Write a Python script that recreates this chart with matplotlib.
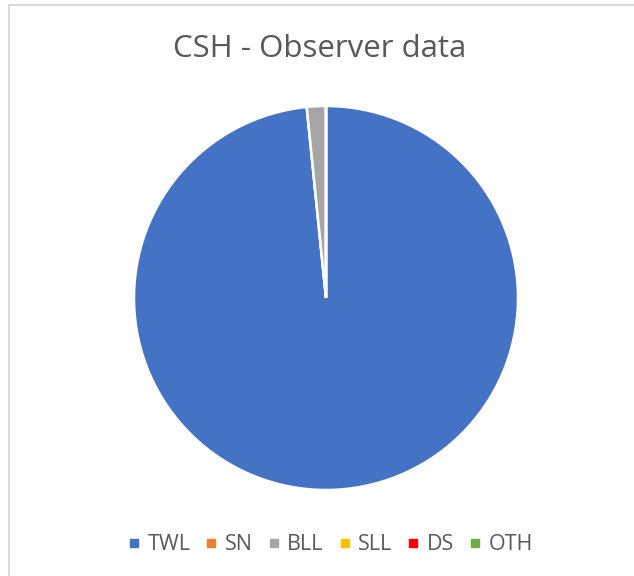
import matplotlib
matplotlib.use("Agg")
import matplotlib.pyplot as plt
from matplotlib.lines import Line2D
from matplotlib.patches import Rectangle

# Share of records by gear category
categories = ["TWL", "SN", "BLL", "SLL", "DS", "OTH"]
values = [98.4, 0.0, 1.6, 0.0, 0.0, 0.0]
colors = ["#4472C4", "#ED7D31", "#A5A5A5", "#FFC000", "#FF0000", "#70AD47"]
title = "CSH - Observer data"

W, H = 634, 576
fig = plt.figure(figsize=(W / 100, H / 100), dpi=100)
fig.patch.set_facecolor("white")

# chart-area frame (left and top edges visible)
fig.patches.append(Rectangle((9 / W, -0.1), 1.2, 1 - 5 / H + 0.1,
                             transform=fig.transFigure, fill=False,
                             edgecolor="#D9D9D9", linewidth=1.6, zorder=0))

cx, cy, r = 326, 298, 192
ax = fig.add_axes([(cx - r) / W, (H - cy - r) / H, 2 * r / W, 2 * r / H])
wedges, _ = ax.pie(values, colors=colors, startangle=90, counterclock=False,
                   radius=1.0,
                   wedgeprops=dict(edgecolor="white", linewidth=1.8))
ax.set_xlim(-1, 1)
ax.set_ylim(-1, 1)
ax.set_aspect("equal")
ax.axis("off")

fig.text(320 / W, 1 - 49 / H, title, ha="center", va="center",
         fontsize=22.5, color="#595959", family=["Open Sans", "DejaVu Sans"])

handles = [Line2D([], [], marker="s", linestyle="none", markersize=5.5,
                  markerfacecolor=c, markeredgecolor=c) for c in colors]
fig.legend(handles, categories, loc="center", bbox_to_anchor=(331 / W, 1 - 545 / H),
           ncol=len(categories), frameon=False, handlelength=0.45,
           handletextpad=0.4, columnspacing=0.75,
           prop=dict(family=["Open Sans", "DejaVu Sans"], size=15.5),
           labelcolor="#595959")

fig.savefig("out.png", dpi=100, facecolor="white")
